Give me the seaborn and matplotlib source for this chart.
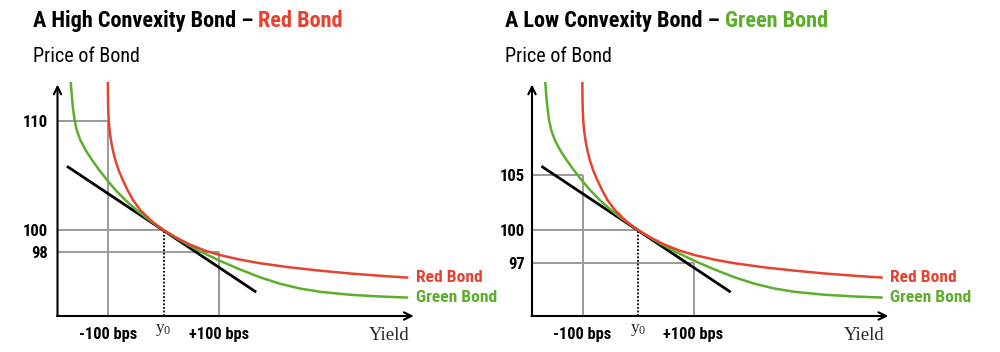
import matplotlib
matplotlib.use("Agg")
import matplotlib.pyplot as plt
from matplotlib import font_manager as fm
import pandas as pd
import seaborn as sns

# ---------------- data ----------------
red_bps = [-100.3, -99.95, -99.55, -98.74, -97.21, -94.77, -91.35, -86.85, -80.90, -73.42, -64.86,
           -54.95, -41.89, -32.79, -23.60, -12.61, 0.0,
           20.72, 47.75, 74.77, 101.80, 137.84, 173.87, 227.93, 281.98, 336.04, 390.09, 441.08]
red_price = [113.58, 111.93, 111.01, 110.09, 109.17, 108.26, 107.34, 106.42, 105.50, 104.59, 103.67,
             102.75, 101.83, 101.38, 100.92, 100.46, 100.0,
             99.36, 98.66, 98.11, 97.70, 97.28, 96.95, 96.57, 96.27, 96.01, 95.80, 95.63]

green_bps = [-167.2, -164.6, -162.7, -160.2, -156.4, -150.0, -140.5, -128.8, -115.8, -101.8, -86.5,
             -68.9, -48.6, -25.7, -13.2, 0.0,
             29.73, 65.77, 101.80, 137.84, 173.87, 209.91, 245.95, 281.98, 336.04, 390.09, 441.08]
green_price = [113.58, 111.93, 111.01, 110.09, 109.17, 108.26, 107.34, 106.42, 105.50, 104.59, 103.67,
               102.75, 101.83, 100.92, 100.46, 100.0,
               99.06, 98.05, 97.17, 96.38, 95.66, 95.07, 94.63, 94.33, 94.06, 93.90, 93.80]

tangent_bps = [-174.0, 167.0]
tangent_price = [105.85, 94.30]

shift_bps = [-100, 0, 100]
left_price_marks = [110, 100, 98]
right_price_marks = [105, 100, 97]
x_tick_labels = ["-100 bps", "+100 bps"]
titles = ["A High Convexity Bond \u2013 ", "A Low Convexity Bond \u2013 "]
title_highlights = ["Red Bond", "Green Bond"]
series_names = ["Red Bond", "Green Bond"]

RED = "#E5422F"
GREEN = "#5CAF2B"
GRID = "#9A9A9A"

# ---------------- style ----------------
sns.set_theme(style="white")
avail = {f.name for f in fm.fontManager.ttflist}
cond = None
for n in ["Liberation Sans Narrow", "Roboto Condensed", "Open Sans Condensed", "DejaVu Sans Condensed"]:
    if n in avail:
        cond = n
        break
stretch = "normal"
if cond is None:
    cond = "DejaVu Sans"
    stretch = "condensed"
plt.rcParams["font.family"] = [cond, "DejaVu Sans"]
plt.rcParams["font.stretch"] = stretch
plt.rcParams["mathtext.fontset"] = "custom"
plt.rcParams["mathtext.rm"] = "Liberation Serif"
plt.rcParams["mathtext.it"] = "Liberation Serif:italic"
SERIF = ["Liberation Serif", "DejaVu Serif"]

W, H = 1000, 352
fig = plt.figure(figsize=(W / 100, H / 100), dpi=100)

XLIM = (-191.0, 460.0)
YLIM = (92.11, 114.22)
PX_PER_BPS = 0.555
PX_PER_PRICE = 10.9
ax_w = (XLIM[1] - XLIM[0]) * PX_PER_BPS / W
ax_h = (YLIM[1] - YLIM[0]) * PX_PER_PRICE / H
ax_bottom = 1 - 316 / H

df = pd.concat([
    pd.DataFrame({"bps": red_bps, "price": red_price, "bond": series_names[0]}),
    pd.DataFrame({"bps": green_bps, "price": green_price, "bond": series_names[1]}),
], ignore_index=True)
palette = {series_names[0]: RED, series_names[1]: GREEN}

panels = [
    dict(left_px=57.5, marks=left_price_marks, title=titles[0], hl=title_highlights[0], hl_color=RED,
         title_x=33, ypad=7),
    dict(left_px=532.0, marks=right_price_marks, title=titles[1], hl=title_highlights[1], hl_color=GREEN,
         title_x=505, ypad=5),
]

for p in panels:
    ax = fig.add_axes([p["left_px"] / W, ax_bottom, ax_w, ax_h])
    ax.set_xlim(*XLIM)
    ax.set_ylim(*YLIM)
    ax.patch.set_alpha(0)
    for s in ax.spines.values():
        s.set_visible(False)

    marks = p["marks"]
    xmin, ymin = XLIM[0], YLIM[0]
    glw = 1.4
    # reference grid lines
    ax.plot([xmin, shift_bps[0]], [marks[0], marks[0]], color=GRID, lw=glw, zorder=1, clip_on=False)
    ax.plot([xmin, shift_bps[1]], [marks[1], marks[1]], color=GRID, lw=glw, zorder=1, clip_on=False)
    ax.plot([xmin, shift_bps[2]], [marks[2], marks[2]], color=GRID, lw=glw, zorder=1, clip_on=False)
    ax.plot([shift_bps[0], shift_bps[0]], [ymin, marks[0]], color=GRID, lw=glw, zorder=1, clip_on=False)
    ax.plot([shift_bps[2], shift_bps[2]], [ymin, marks[2]], color=GRID, lw=glw, zorder=1, clip_on=False)
    ax.plot([shift_bps[1], shift_bps[1]], [ymin, marks[1]], color="black", lw=1.3,
            ls=(0, (1, 1)), zorder=1.5, clip_on=False)

    # tangent line
    sns.lineplot(x=tangent_bps, y=tangent_price, color="black", lw=2.0, ax=ax, zorder=2.5)

    # price curves
    sns.lineplot(data=df, x="bps", y="price", hue="bond", hue_order=[series_names[1], series_names[0]],
                 palette=palette, sort=False, estimator=None, legend=False, lw=1.8, ax=ax, zorder=3)
    for ln in ax.lines:
        ln.set_clip_on(False)
        ln.set_solid_capstyle("butt")
        ln.set_solid_joinstyle("round")

    # axes arrows
    arrow = dict(arrowstyle="->,head_length=0.45,head_width=0.22", lw=1.5, color="black",
                 shrinkA=0, shrinkB=0)
    ax.annotate("", xy=(xmin, 113.35), xytext=(xmin, ymin), arrowprops=arrow, annotation_clip=False)
    ax.annotate("", xy=(451, ymin), xytext=(xmin - 0.9, ymin), arrowprops=arrow, annotation_clip=False)

    # ticks
    ax.set_yticks(marks, labels=[str(m) for m in marks])
    ax.set_xticks([shift_bps[0], shift_bps[2]], labels=x_tick_labels)
    ax.tick_params(axis="y", length=0, pad=p["ypad"], labelsize=12, labelcolor="black")
    ax.tick_params(axis="x", length=0, pad=8, labelsize=11.8, labelcolor="black")
    for t in ax.get_yticklabels() + ax.get_xticklabels():
        t.set_fontweight("bold")
    ax.set_xlabel("")
    ax.set_ylabel("")

    # y0 label and Yield label
    ax.annotate(r"$\mathrm{y}_{0}$", xy=(shift_bps[1], ymin), xytext=(0, -4), textcoords="offset points",
                ha="center", va="top", fontsize=12.5, annotation_clip=False)
    ax.annotate("Yield", xy=(444, ymin), xytext=(0, -17.3), textcoords="offset points",
                ha="right", va="baseline", fontsize=13.5, family=SERIF, annotation_clip=False)

    # end labels
    ax.annotate(series_names[0], xy=(red_bps[-1], red_price[-1]), xytext=(5.3, 0), textcoords="offset points",
                ha="left", va="center", fontsize=12.6, fontweight="bold", color=RED, annotation_clip=False)
    ax.annotate(series_names[1], xy=(green_bps[-1], green_price[-1]), xytext=(5.3, 0), textcoords="offset points",
                ha="left", va="center", fontsize=12.6, fontweight="bold", color=GREEN, annotation_clip=False)

    # titles
    t1 = fig.text(p["title_x"] / W, 1 - 27.3 / H, p["title"], fontsize=16, fontweight="bold",
                  color="black", ha="left", va="baseline")
    ax.annotate(p["hl"], xy=(1, 0), xycoords=t1, ha="left", va="bottom", fontsize=16,
                fontweight="bold", color=p["hl_color"], annotation_clip=False)
    fig.text(p["title_x"] / W, 1 - 61.7 / H, "Price of Bond", fontsize=14.5, color="black",
             ha="left", va="baseline")

fig.savefig("out.png", dpi=100, facecolor="white")
